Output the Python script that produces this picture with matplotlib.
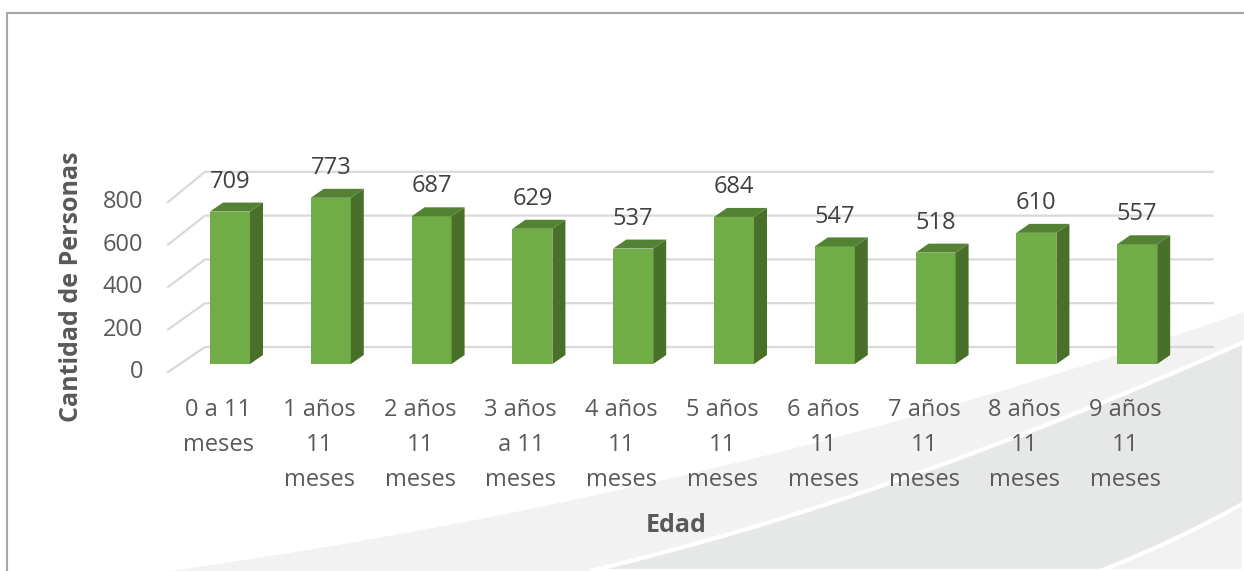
import numpy as np
import matplotlib.pyplot as plt
from matplotlib.patches import Polygon, PathPatch
from matplotlib.path import Path

# datos del grafico
categorias = ['0 a 11\nmeses', '1 años\n11\nmeses', '2 años\n11\nmeses', '3 años\na 11\nmeses',
              '4 años\n11\nmeses', '5 años\n11\nmeses', '6 años\n11\nmeses', '7 años\n11\nmeses',
              '8 años\n11\nmeses', '9 años\n11\nmeses']
cantidad = [709, 773, 687, 629, 537, 684, 547, 518, 610, 557]
ticks_y = [0, 200, 400, 600, 800]

W, H = 1244, 571
plt.rcParams['font.family'] = ['Open Sans', 'DejaVu Sans']
fig = plt.figure(figsize=(W / 100, H / 100), dpi=100)

# fondo decorativo (curvas grises)
bg = fig.add_axes([0, 0, 1, 1], zorder=0)
bg.set_xlim(0, W)
bg.set_ylim(H, 0)
bg.axis('off')
C3 = Path.CURVE3
claro = Path([(170, 571), (733, 492), (1244, 312), (1244, 571), (170, 571)],
             [Path.MOVETO, C3, C3, Path.LINETO, Path.CLOSEPOLY])
bg.add_patch(PathPatch(claro, fc='#f2f2f2', ec='none'))
oscuro = Path([(590, 571), (893, 499), (1244, 342), (1244, 571), (590, 571)],
              [Path.MOVETO, C3, C3, Path.LINETO, Path.CLOSEPOLY])
bg.add_patch(PathPatch(oscuro, fc='#e6e7e7', ec='white', lw=3))
claro2 = Path([(1100, 571), (1175, 542), (1244, 503), (1244, 571), (1100, 571)],
              [Path.MOVETO, C3, C3, Path.LINETO, Path.CLOSEPOLY])
bg.add_patch(PathPatch(claro2, fc='#f1f1f1', ec='white', lw=3))
# borde
bg.plot([7, 7, W], [H, 13, 13], color='#a6a6a6', lw=1.5)

# escala: posicion de la categoria 0 y pixeles por unidad
X0, XS = 230, 100.8
Y0, YS = 364, 0.215
ax = fig.add_axes([0, 0, 1, 1], zorder=1)
ax.set_facecolor('none')
ax.set_xlim(-X0 / XS, (W - X0) / XS)
ax.set_ylim((Y0 - H) / YS, Y0 / YS)
ax.axis('off')

x = np.arange(len(cantidad))
ancho = 40 / XS
ddx, ddy = 13 / XS, 9 / YS

# lineas de cuadricula en perspectiva
x_frente, x_fondo, x_fin = -0.615, -0.248, 9.75
for g in ticks_y:
    y_fondo = 79 + 1.0186 * g
    y_frente = -37.2 + 0.988 * g
    ax.plot([x_frente, x_fondo, x_fin], [y_frente, y_fondo, y_fondo], color='#d9d9d9', lw=1.6, zorder=1)
    ax.text(-0.86, y_frente, str(g), ha='right', va='center', fontsize=17, color='#595959')

# barras 3D
ax.bar(x, cantidad, width=ancho, color='#70ad47', zorder=3)
for xi, v in zip(x, cantidad):
    xr = xi + ancho / 2
    xl = xi - ancho / 2
    ax.add_patch(Polygon([(xr, 0), (xr + ddx, ddy), (xr + ddx, v + ddy), (xr, v)],
                         closed=True, fc='#487028', ec='none', zorder=3))
    ax.add_patch(Polygon([(xl, v), (xr, v), (xr + ddx, v + ddy), (xl + ddx, v + ddy)],
                         closed=True, fc='#548234', ec='none', zorder=3))
    ax.annotate(str(v), (xi, v), xytext=(0, 21.5), textcoords='offset points',
                ha='center', va='center', fontsize=17, color='#404040', zorder=4)

# etiquetas de categoria (una linea cada 35 px)
for xi, lab in zip(x, categorias):
    for k, linea in enumerate(lab.split('\n')):
        ax.text(xi - 0.115, (Y0 - 410 - 35 * k) / YS, linea,
                ha='center', va='center', fontsize=17, color='#595959')

ax.text((676 - X0) / XS, (Y0 - 525) / YS, 'Edad', ha='center', va='center',
        fontsize=18, fontweight='bold', color='#595959')
ax.text((72 - X0) / XS, (Y0 - 287) / YS, 'Cantidad de Personas', ha='center', va='center',
        rotation=90, fontsize=18, fontweight='bold', color='#595959')

fig.savefig('out.png', dpi=100)
